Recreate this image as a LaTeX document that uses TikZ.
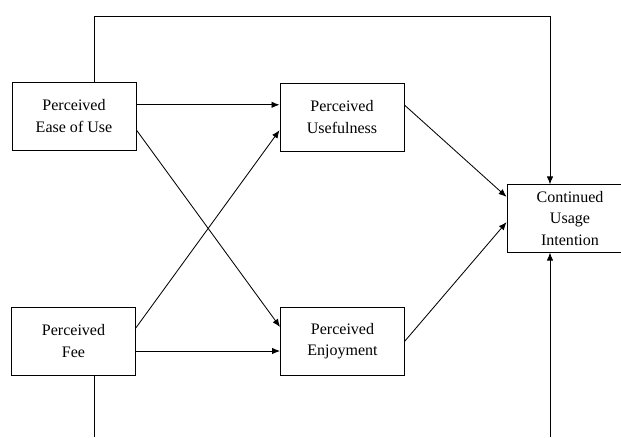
\documentclass[tikz,border=0pt]{standalone}
\usepackage{fontspec}
\setmainfont{Liberation Serif}
\usepackage{tikz}
\usetikzlibrary{arrows.meta,calc,positioning}
\tikzset{
  construct/.style={
    draw=black,
    line width=0.6pt,
    fill=white,
    align=center,
    font=\fontsize{11.4}{15}\selectfont,
    minimum width=3.1cm,
    minimum height=1.7cm,
    inner sep=2pt
  },
  path/.style={line width=0.6pt, draw=black},
  arr/.style={path, -{Latex[length=2mm, width=1.6mm]}}
}

\begin{document}
\begin{tikzpicture}[x=0.025cm,y=-0.025cm]
\path[use as bounding box] (0,0) rectangle (621,437);

\node[construct] (peou) at (74,116) {Perceived\\Ease of Use};
\node[construct] (pu) at (342,117) {Perceived\\Usefulness};
\node[construct] (pf) at (73.5,341) {Perceived\\Fee};
\node[construct] (pe) at (342.5,341) {Perceived\\Enjoyment};
\node[construct, minimum width=3.15cm, minimum height=1.68cm] (cui) at (570,218.5) {Continued\\Usage\\Intention};

\coordinate (topRight) at (550,16);
\coordinate (feeEnd) at (94,437);
\coordinate (usageEnd) at (550,437);

\draw[arr] ([yshift=0.28cm]peou.east) -- ([yshift=0.28cm]peou.east -| pu.west);
\draw[arr] ([yshift=-0.35cm]peou.east) -- ([yshift=0.35cm]pe.west);
\draw[arr] ([yshift=0.33cm]pf.east) -- ([yshift=-0.33cm]pu.west);
\draw[arr] ([yshift=-0.25cm]pf.east) -- ([yshift=-0.25cm]pf.east -| pe.west);

\draw[arr] ([yshift=0.3cm]pu.east) -- ([yshift=0.54cm]cui.west);
\draw[arr] (pe.east) -- ([yshift=-0.09cm]cui.west);

\draw[arr] (peou.north -| feeEnd) |- (topRight) -- (cui.north -| topRight);
\draw[path] (pf.south -| feeEnd) -- (feeEnd);
\draw[arr] (usageEnd) -- (cui.south -| usageEnd);
\end{tikzpicture}
\end{document}
